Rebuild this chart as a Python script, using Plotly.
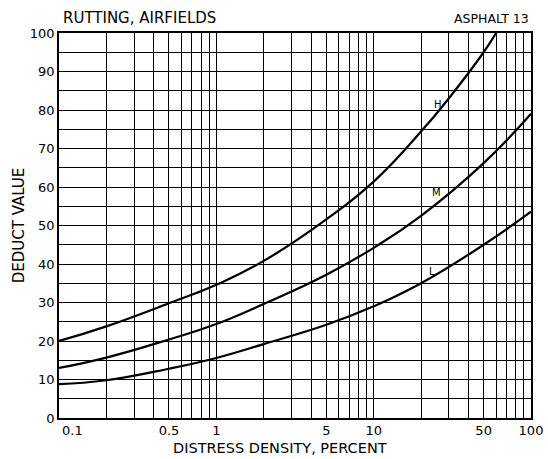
import math
import plotly.graph_objects as go

# distress density (percent) and deduct values
x_h = [0.1, 0.2, 0.5, 1, 2, 5, 10, 20, 30, 50, 60]
y_h = [20, 23.8, 29.8, 34.6, 40.8, 51.6, 61.4, 74.4, 83, 95, 100]

x_m = [0.1, 0.2, 0.5, 1, 2, 5, 10, 20, 50, 100]
y_m = [13, 15.7, 20.4, 24.4, 29.6, 37.2, 44.2, 52.5, 66.2, 79]

x_l = [0.1, 0.2, 0.5, 1, 2, 5, 10, 20, 50, 100]
y_l = [8.8, 9.8, 12.8, 15.6, 19.2, 24.2, 29, 35, 45, 53.6]

curve_labels = ["H", "M", "L"]
label_x = [25.6, 25, 23.5]
label_y = [81.5, 58.5, 38]

x_ticks = [m * 10 ** e for e in (-1, 0, 1) for m in range(1, 10)] + [100]
x_labeled = {0.5: "0.5", 1: "1", 5: "5", 10: "10", 50: "50", 100: "100"}
y_ticks = list(range(0, 101, 5))

FONT = "DejaVu Sans"

fig = go.Figure()
for xs, ys in [(x_h, y_h), (x_m, y_m), (x_l, y_l)]:
    fig.add_trace(go.Scatter(x=xs, y=ys, mode="lines",
                             line=dict(color="black", width=2.2, shape="spline", smoothing=1.3),
                             showlegend=False, hoverinfo="skip"))

for name, lx, ly in zip(curve_labels, label_x, label_y):
    fig.add_annotation(x=math.log10(lx), y=ly, text=name, showarrow=False,
                       font=dict(family=FONT, size=10, color="black"))

# first x label sits right of the corner, clear of the y "0"
fig.add_annotation(x=-1, xanchor="left", xshift=1, yref="paper", y=0, yanchor="top", yshift=-3,
                   text="0.1", showarrow=False, font=dict(family=FONT, size=13, color="black"))

fig.add_annotation(xref="paper", yref="paper", x=0.005, y=1.0, yshift=4, xanchor="left", yanchor="bottom",
                   text="RUTTING, AIRFIELDS", showarrow=False, font=dict(family=FONT, size=15, color="black"))
fig.add_annotation(xref="paper", yref="paper", x=1.0, y=1.0, yshift=5, xanchor="right", yanchor="bottom",
                   text="ASPHALT 13", showarrow=False, font=dict(family=FONT, size=12.5, color="black"))
fig.add_annotation(xref="paper", yref="paper", x=0.468, y=0, yshift=-20, xanchor="center", yanchor="top",
                   text="DISTRESS DENSITY, PERCENT", showarrow=False,
                   font=dict(family=FONT, size=14.5, color="black"))

fig.update_xaxes(type="log", range=[-1, 2], tickvals=x_ticks,
                 ticktext=[x_labeled.get(round(v, 6), "") for v in x_ticks],
                 showgrid=True, gridcolor="black", gridwidth=1.3, automargin=False,
                 showline=True, linecolor="black", linewidth=1.5, mirror=True,
                 ticks="", tickfont=dict(family=FONT, size=13, color="black"))
fig.update_yaxes(range=[0, 100], tickvals=y_ticks,
                 ticktext=[str(v) if v % 10 == 0 else "" for v in y_ticks],
                 showgrid=True, gridcolor="black", gridwidth=1.3, zeroline=False, automargin=False,
                 showline=True, linecolor="black", linewidth=1.5, mirror=True,
                 ticks="", tickfont=dict(family=FONT, size=13, color="black"),
                 title=dict(text="DEDUCT VALUE", standoff=2,
                            font=dict(family=FONT, size=15, color="black")))

fig.update_layout(width=548, height=459, margin=dict(l=59, r=17, t=33, b=41),
                  paper_bgcolor="white", plot_bgcolor="white")

fig.write_html("out.html", config={"displayModeBar": False},
               post_script="document.body.style.margin='0';")
